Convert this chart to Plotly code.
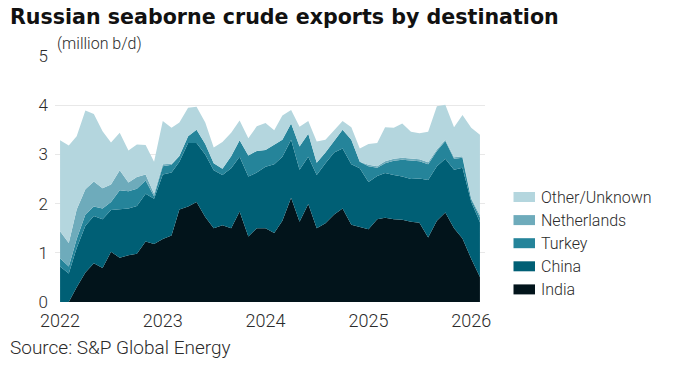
import plotly.graph_objects as go
import pandas as pd

months = pd.date_range("2022-01-01", "2026-02-01", freq="MS")

india = [0.00, 0.00, 0.30, 0.60, 0.79, 0.69, 1.02, 0.90, 0.95, 0.98, 1.23, 1.18,
         1.28, 1.35, 1.88, 1.94, 2.03, 1.73, 1.50, 1.56, 1.50, 1.84, 1.33, 1.50,
         1.50, 1.40, 1.65, 2.12, 1.63, 1.99, 1.50, 1.60, 1.78, 1.90, 1.57, 1.53,
         1.48, 1.68, 1.71, 1.68, 1.67, 1.63, 1.61, 1.31, 1.65, 1.82, 1.50, 1.29,
         0.88, 0.51]
china = [0.72, 0.58, 0.80, 0.95, 0.96, 0.99, 0.85, 0.99, 0.95, 0.97, 0.97, 0.92,
         1.31, 1.28, 0.97, 1.29, 1.20, 1.27, 1.18, 1.02, 1.22, 1.11, 1.22, 1.13,
         1.25, 1.40, 1.30, 1.18, 1.06, 0.96, 1.08, 1.22, 1.26, 1.22, 1.23, 1.19,
         0.96, 0.88, 0.91, 0.90, 0.88, 0.87, 0.90, 1.17, 1.11, 1.09, 1.19, 1.44,
         1.16, 1.11]
turkey = [0.17, 0.14, 0.18, 0.23, 0.19, 0.22, 0.16, 0.38, 0.35, 0.35, 0.27, 0.05,
          0.17, 0.16, 0.12, 0.14, 0.27, 0.21, 0.14, 0.13, 0.24, 0.34, 0.43, 0.44,
          0.34, 0.40, 0.35, 0.33, 0.47, 0.47, 0.25, 0.22, 0.24, 0.38, 0.50, 0.13,
          0.32, 0.17, 0.20, 0.29, 0.34, 0.37, 0.35, 0.32, 0.31, 0.36, 0.22, 0.20,
          0.05, 0.10]
netherlands = [0.55, 0.48, 0.60, 0.51, 0.51, 0.41, 0.36, 0.41, 0.18, 0.24, 0.12, 0.05,
               0.04, 0.02, 0.00, 0.00, 0.00, 0.00, 0.00, 0.00, 0.00, 0.00, 0.00, 0.00,
               0.00, 0.00, 0.00, 0.00, 0.00, 0.00, 0.00, 0.00, 0.00, 0.00, 0.00, 0.00,
               0.03, 0.03, 0.04, 0.04, 0.04, 0.04, 0.04, 0.04, 0.03, 0.03, 0.03, 0.03,
               0.02, 0.05]
other = [1.85, 1.98, 1.49, 1.60, 1.37, 1.16, 0.85, 0.76, 0.65, 0.66, 0.60, 0.65,
         0.88, 0.73, 0.68, 0.58, 0.47, 0.44, 0.32, 0.54, 0.48, 0.40, 0.35, 0.50,
         0.55, 0.29, 0.49, 0.27, 0.40, 0.26, 0.43, 0.26, 0.21, 0.18, 0.25, 0.27,
         0.42, 0.47, 0.69, 0.63, 0.70, 0.55, 0.53, 0.62, 0.88, 0.71, 0.61, 0.84,
         1.43, 1.63]

series_names = ["India", "China", "Turkey", "Netherlands", "Other/Unknown"]
series_values = [india, china, turkey, netherlands, other]
colors = ["#02141b", "#005f75", "#25849a", "#6eabbb", "#b4d6de"]

year_ticks = ["2022-01-01", "2023-01-01", "2024-01-01", "2025-01-01", "2026-01-01"]
year_labels = ["2022", "2023", "2024", "2025", "2026"]

FONT = "Roboto"
TXT = "#2b2b2b"
W = 300

fig = go.Figure()
for name, vals, col in zip(series_names, series_values, colors):
    fig.add_trace(go.Scatter(
        x=months, y=vals, name=name, mode="lines",
        stackgroup="one", line=dict(width=0, color=col),
        fillcolor=col, showlegend=False, hoverinfo="x+y+name"))

# manual legend (top item = last series)
L = 697 - 55 - 212
for k, (name, col) in enumerate(reversed(list(zip(series_names, colors)))):
    yc = 197 + 23.1 * k
    yp = (302 - yc) / 246
    fig.add_shape(type="rect", xref="paper", yref="paper",
                  x0=(513.5 - 55) / L, x1=(535 - 55) / L,
                  y0=yp - 5 / 246, y1=yp + 5 / 246,
                  fillcolor=col, line=dict(width=0))
    fig.add_annotation(xref="paper", yref="paper", x=(539 - 55) / L, y=yp,
                       text=name, showarrow=False, xanchor="left", yanchor="middle",
                       font=dict(family=FONT, size=16, color=TXT, weight=W))

fig.add_annotation(xref="paper", yref="paper", x=0, y=1 + (56 - 44) / 246,
                   text="(million b/d)", showarrow=False, xanchor="left", yanchor="middle",
                   font=dict(family=FONT, size=16, color=TXT, weight=W))
fig.add_annotation(xref="paper", yref="paper", x=(8 - 55) / L, y=-(347 - 302) / 246,
                   text="Source: S&P Global Energy", showarrow=False, xanchor="left",
                   yanchor="middle", font=dict(family=FONT, size=19, color=TXT, weight=W))

fig.update_layout(
    width=697, height=382,
    margin=dict(l=55, r=212, t=56, b=80),
    paper_bgcolor="white", plot_bgcolor="white",
    title=dict(text="<b>Russian seaborne crude exports by destination</b>",
               xref="container", yref="container", x=10 / 697, xanchor="left",
               y=1 - 17 / 382, yanchor="middle",
               font=dict(family="DejaVu Sans", size=20.6, color="#111")),
    xaxis=dict(type="date", range=["2021-12-14", "2026-02-19"],
               tickvals=year_ticks, ticktext=year_labels,
               showgrid=False, zeroline=False, showline=False, ticks="",
               ticklabelstandoff=6,
               tickfont=dict(family=FONT, size=18, color=TXT, weight=W)),
    yaxis=dict(range=[0, 5], tickvals=[0, 1, 2, 3, 4, 5],
               showgrid=True, gridcolor="#e8e8e8", gridwidth=1,
               zeroline=False, showline=False, ticks="", ticklabelstandoff=6,
               tickfont=dict(family=FONT, size=17, color=TXT, weight=W)),
)

fig.write_html("out.html", config={"displayModeBar": False},
               post_script="document.body.style.margin='0';")
